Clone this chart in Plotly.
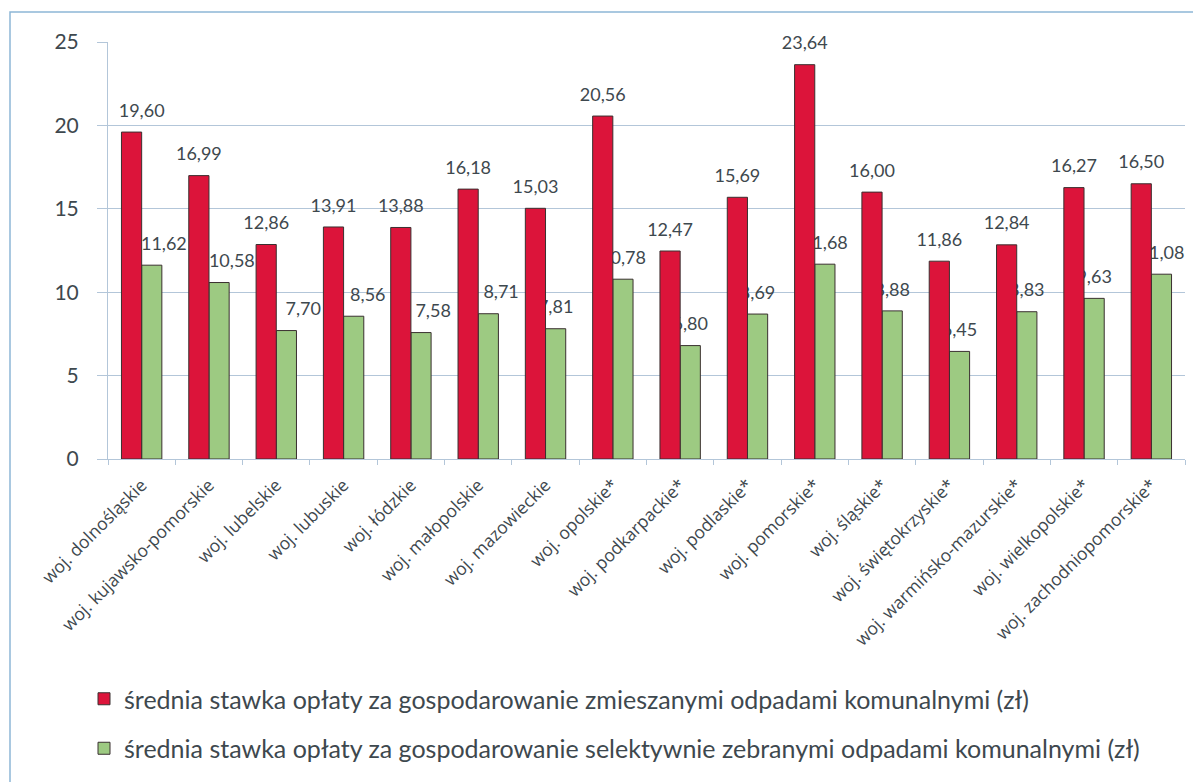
import plotly.graph_objects as go

categories = [
    "woj. dolnośląskie", "woj. kujawsko-pomorskie", "woj. lubelskie", "woj. lubuskie",
    "woj. łódzkie", "woj. małopolskie", "woj. mazowieckie", "woj. opolskie*",
    "woj. podkarpackie*", "woj. podlaskie*", "woj. pomorskie*", "woj. śląskie*",
    "woj. świętokrzyskie*", "woj. warmińsko-mazurskie*", "woj. wielkopolskie*",
    "woj. zachodniopomorskie*",
]
mixed = [19.60, 16.99, 12.86, 13.91, 13.88, 16.18, 15.03, 20.56,
         12.47, 15.69, 23.64, 16.00, 11.86, 12.84, 16.27, 16.50]
selective = [11.62, 10.58, 7.70, 8.56, 7.58, 8.71, 7.81, 10.78,
             6.80, 8.69, 11.68, 8.88, 6.45, 8.83, 9.63, 11.08]
series_names = [
    "średnia stawka opłaty za gospodarowanie zmieszanymi odpadami komunalnymi (zł)",
    "średnia stawka opłaty za gospodarowanie selektywnie zebranymi odpadami komunalnymi (zł)",
]
y_ticks = [0, 5, 10, 15, 20, 25]

# style: sideways nudges of some value labels (fraction of a category), as placed in the original
LABEL_NUDGE_MIXED = [0.15] + [0.0] * 15
LABEL_NUDGE_SELECTIVE = [0.18, 0.19, 0.25, 0.21, 0.18, 0.19] + [0.0] * 10

TXT = "#3e484e"
GRID = "#b3c6d9"
RED = "#dc143a"
GREEN = "#9dca82"
BAR_W = 0.3
LABEL_PAD = 0.5  # gap between bar top and its value label (axis units)


def value_bar(vals, name, col, offset, grp, rank):
    return go.Bar(
        x=categories, y=vals, name=name, legendgroup=grp, legendrank=rank,
        width=BAR_W, offset=offset,
        marker=dict(color=col, line=dict(color="#3a3030", width=1)),
        hoverinfo="x+y",
    )


def label_bar(vals, offset, nudges):
    # invisible sliver sitting on top of each bar, carrying the value label
    return go.Bar(
        x=categories, y=[LABEL_PAD] * len(vals), base=vals, customdata=vals,
        width=BAR_W, offset=[offset + n for n in nudges],
        showlegend=False, hoverinfo="skip",
        marker=dict(color="rgba(0,0,0,0)", line=dict(width=0)),
        texttemplate="%{customdata:.2f}", textposition="outside",
        constraintext="none", cliponaxis=False,
        textfont=dict(family="Lato", size=18, color=TXT),
    )


fig = go.Figure()
# green first so that the red bars overlap green labels, as in the original
fig.add_trace(label_bar(selective, 0.0, LABEL_NUDGE_SELECTIVE))
fig.add_trace(value_bar(selective, series_names[1], GREEN, 0.0, "b", 2))
fig.add_trace(value_bar(mixed, series_names[0], RED, -BAR_W, "a", 1))
fig.add_trace(label_bar(mixed, -BAR_W, LABEL_NUDGE_MIXED))

W, H = 1193, 774
L, T, R, B = 100, 34, 16, 323
ph = H - T - B
pw = W - L - R

fig.update_layout(
    width=W, height=H,
    margin=dict(l=L, r=R, t=T, b=B, autoexpand=False),
    paper_bgcolor="white", plot_bgcolor="white",
    separators=", ",
    barmode="overlay",
    font=dict(family="Lato", color=TXT),
    legend=dict(
        x=-24 / pw, y=-(668 - 451) / ph, xanchor="left", yanchor="top",
        traceorder="grouped", tracegroupgap=14,
        font=dict(family="Lato", size=25, color=TXT),
        bgcolor="rgba(0,0,0,0)",
    ),
    xaxis=dict(
        tickangle=-45, tickfont=dict(family="Open Sans", size=17.5, color=TXT),
        showline=True, linecolor=GRID, linewidth=1,
        ticks="outside", tickson="boundaries", ticklen=5, tickcolor=GRID,
        ticklabelstandoff=8,
        showgrid=False,
    ),
    yaxis=dict(
        range=[0, 25], tickvals=y_ticks,
        tickfont=dict(family="Lato", size=21, color=TXT),
        showgrid=True, gridcolor=GRID, gridwidth=1.2,
        showline=True, linecolor=GRID, linewidth=1,
        ticks="outside", ticklen=10, tickcolor=GRID,
        ticklabelstandoff=14,
        zeroline=False,
    ),
    shapes=[dict(
        type="rect", xref="paper", yref="paper",
        x0=-98 / pw, x1=1.2, y0=-1.2, y1=1 + 30 / ph,
        line=dict(color="#8db6d6", width=1.5), fillcolor="rgba(0,0,0,0)",
        layer="below",
    )],
)

fig.write_html("out.html")
